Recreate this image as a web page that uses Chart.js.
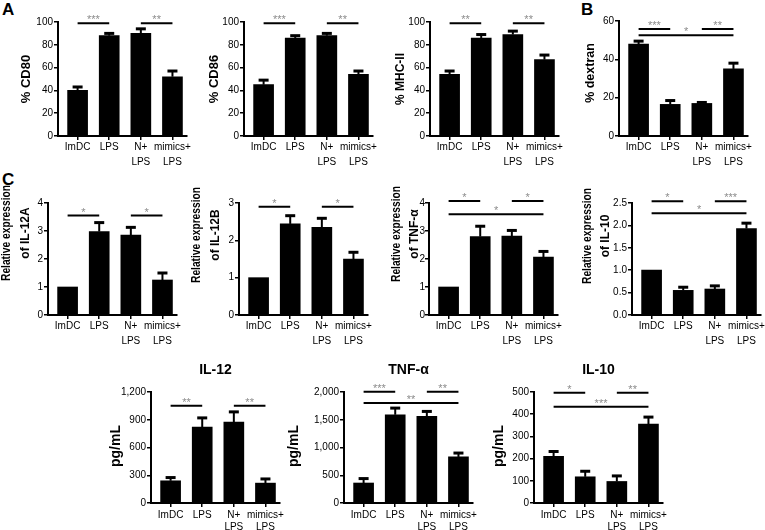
<!DOCTYPE html>
<html>
<head>
<meta charset="utf-8">
<script src="https://cdn.jsdelivr.net/npm/chart.js@4.4.1/dist/chart.umd.min.js"></script>
<style>
  body { margin: 0; background: #fff; width: 765px; height: 530px; position: relative; overflow: hidden;
         font-family: 'Liberation Sans', Arial, sans-serif; }
  canvas { position: absolute; }
  .letter { position: absolute; font-weight: bold; font-size: 17px; line-height: 17px; }
</style>
</head>
<body>
<div class="letter" style="left:2px;top:1px">A</div>
<div class="letter" style="left:581px;top:1px">B</div>
<div class="letter" style="left:2px;top:171px">C</div>
<script>
// category labels (x ticks)
const tickLabels = [['ImDC'], ['LPS'], ['N+', 'LPS'], ['mimics+', 'LPS']];

// A: surface markers (%)
const cd80 = [40, 88, 90, 52];
const cd80Err = [3, 2, 4, 5];
const cd86 = [45, 86, 88, 54];
const cd86Err = [4, 2, 2, 3];
const mhc2 = [54, 86, 89, 67];
const mhc2Err = [3, 3, 3, 4];
// B: dextran uptake (%)
const dextran = [48, 16.5, 17, 35];
const dextranErr = [1.5, 2, 0.5, 3];
// C: relative expression
const il12aRel = [1, 2.98, 2.85, 1.25];
const il12aRelErr = [0, 0.32, 0.28, 0.25];
const il12bRel = [1, 2.44, 2.35, 1.5];
const il12bRelErr = [0, 0.22, 0.24, 0.18];
const tnfRel = [1, 2.8, 2.82, 2.07];
const tnfRelErr = [0, 0.37, 0.2, 0.2];
const il10Rel = [1, 0.55, 0.58, 1.93];
const il10RelErr = [0, 0.07, 0.07, 0.12];
// C: secreted cytokines (pg/mL)
const il12Pg = [240, 820, 875, 215];
const il12PgErr = [35, 100, 110, 45];
const tnfPg = [360, 1590, 1560, 830];
const tnfPgErr = [80, 120, 90, 70];
const il10Pg = [210, 118, 97, 355];
const il10PgErr = [22, 25, 25, 32];

// significance brackets: [from, to, level, stars]
const cd80Sig = [[0, 1, 99, '***'], [2, 3, 99, '**']];
const cd86Sig = [[0, 1, 99, '***'], [2, 3, 99, '**']];
const mhc2Sig = [[0, 1, 99, '**'], [2, 3, 99, '**']];
const dextranSig = [[0, 1, 55.8, '***'], [2, 3, 55.8, '**'], [0, 3, 52.6, '*']];
const il12aSig = [[0, 1, 3.55, '*'], [2, 3, 3.55, '*']];
const il12bSig = [[0, 1, 2.9, '*'], [2, 3, 2.9, '*']];
const tnfRelSig = [[0, 1, 4.07, '*'], [2, 3, 4.07, '*'], [0, 3, 3.6, '*']];
const il10RelSig = [[0, 1, 2.54, '*'], [2, 3, 2.54, '***'], [0, 3, 2.27, '*']];
const il12PgSig = [[0, 1, 1052, '**'], [2, 3, 1052, '**']];
const tnfPgSig = [[0, 1, 2005, '***'], [2, 3, 2005, '**'], [0, 3, 1802, '**']];
const il10PgSig = [[0, 1, 497, '*'], [2, 3, 497, '**'], [0, 3, 434, '***']];

Chart.defaults.font.family = "'Liberation Sans', Arial, sans-serif";
Chart.defaults.color = '#000';

const PAD_L = 60, PAD_T = 32, PAD_R = 12, X_H = 36, AREA_W = 129;

const comma = v => v.toLocaleString('en-US');
const fixed1 = v => v.toFixed(1);
const plain = v => String(v);

const panels = [
  {x: 58, top: 22, bottom: 136, max: 100, step: 20, fmt: plain, values: cd80, err: cd80Err, sig: cd80Sig,
   ty: 79, yTitle: [['% CD80', 32, 13]]},
  {x: 244, top: 22, bottom: 136, max: 100, step: 20, fmt: plain, values: cd86, err: cd86Err, sig: cd86Sig,
   ty: 79, yTitle: [['% CD86', 30, 13]]},
  {x: 430, top: 22, bottom: 136, max: 100, step: 20, fmt: plain, values: mhc2, err: mhc2Err, sig: mhc2Sig,
   ty: 79, yTitle: [['% MHC-II', 29, 12]]},
  {x: 619, top: 21, bottom: 136, max: 60, step: 20, fmt: plain, values: dextran, err: dextranErr, sig: dextranSig,
   ty: 73, yTitle: [['% dextran', 28, 12.5]]},
  {x: 48, top: 203, bottom: 315, max: 4, step: 1, fmt: plain, values: il12aRel, err: il12aRelErr, sig: il12aSig,
   ty: 233, yTitle: [['Relative expression', 41, 12, 96], ['of IL-12A', 22.5, 12]]},
  {x: 239, top: 203, bottom: 315, max: 3, step: 1, fmt: plain, values: il12bRel, err: il12bRelErr, sig: il12bSig,
   ty: 235, yTitle: [['Relative expression', 42, 12, 96], ['of IL-12B', 23.5, 12]]},
  {x: 428.5, top: 203, bottom: 315, max: 4, step: 1, fmt: plain, values: tnfRel, err: tnfRelErr, sig: tnfRelSig,
   ty: 234, yTitle: [['Relative expression', 32, 12, 96], ['of TNF-\u03b1', 14, 12]], tpad: 0},
  {x: 632, top: 203, bottom: 315, max: 2.5, step: 0.5, fmt: fixed1, values: il10Rel, err: il10RelErr, sig: il10RelSig,
   ty: 236, yTitle: [['Relative expression', 44, 12, 96], ['of IL-10', 26.5, 12]]},
  {x: 151, top: 392, bottom: 503, max: 1200, step: 300, fmt: comma, values: il12Pg, err: il12PgErr, sig: il12PgSig,
   ty: 446, yTitle: [['pg/mL', 35, 14]], title: 'IL-12', titleY: 370, lh: 1.2, lpad: 2},
  {x: 344, top: 392, bottom: 503, max: 2000, step: 500, fmt: comma, values: tnfPg, err: tnfPgErr, sig: tnfPgSig,
   ty: 446, yTitle: [['pg/mL', 50, 14]], title: 'TNF-\u03b1', titleY: 370, lh: 1.2, lpad: 2},
  {x: 533.5, top: 392, bottom: 503, max: 500, step: 100, fmt: plain, values: il10Pg, err: il10PgErr, sig: il10PgSig,
   ty: 446, yTitle: [['pg/mL', 35, 14]], title: 'IL-10', titleY: 370, lh: 1.2, lpad: 2},
];

// error bars, brackets, stars and titles
const extras = {
  id: 'extras',
  afterDatasetsDraw(chart) {
    const p = chart.options.plugins.extras.panel;
    const {ctx, chartArea: ca} = chart;
    const xs = chart.scales.x, ys = chart.scales.y;
    const canvasTop = p.top - PAD_T;
    ctx.save();
    ctx.strokeStyle = '#000';
    ctx.fillStyle = '#000';
    // error bars (upper half only, lower half is hidden by the bar)
    p.values.forEach((v, i) => {
      const e = p.err[i];
      if (!e) return;
      const px = xs.getPixelForValue(i);
      const y0 = ys.getPixelForValue(v);
      const y1 = ys.getPixelForValue(v + e);
      ctx.lineWidth = 2;
      ctx.beginPath(); ctx.moveTo(px, y0); ctx.lineTo(px, y1); ctx.stroke();
      ctx.lineWidth = 3;
      ctx.beginPath(); ctx.moveTo(px - 5, y1); ctx.lineTo(px + 5, y1); ctx.stroke();
    });
    // significance brackets
    p.sig.forEach(([a, b, lvl, s]) => {
      const x1 = xs.getPixelForValue(a), x2 = xs.getPixelForValue(b);
      const yy = ys.getPixelForValue(lvl);
      ctx.lineWidth = 2;
      ctx.strokeStyle = '#000';
      ctx.beginPath(); ctx.moveTo(x1, yy); ctx.lineTo(x2, yy); ctx.stroke();
      ctx.fillStyle = '#8c8c8c';
      ctx.font = "11px 'Liberation Sans', Arial, sans-serif";
      ctx.textAlign = 'center';
      ctx.textBaseline = 'alphabetic';
      ctx.fillText(s, (x1 + x2) / 2, yy);
    });
    // y axis title lines
    ctx.fillStyle = '#000';
    p.yTitle.forEach(([t, dx, size, maxW]) => {
      ctx.save();
      ctx.translate(ca.left - dx, p.ty - canvasTop);
      ctx.rotate(-Math.PI / 2);
      ctx.font = "bold " + size + "px 'Liberation Sans', Arial, sans-serif";
      ctx.textAlign = 'center';
      ctx.textBaseline = 'middle';
      if (maxW) ctx.fillText(t, 0, 0, maxW); else ctx.fillText(t, 0, 0);
      ctx.restore();
    });
    // panel title
    if (p.title) {
      ctx.font = "bold 14px 'Liberation Sans', Arial, sans-serif";
      ctx.textAlign = 'center';
      ctx.textBaseline = 'middle';
      ctx.fillText(p.title, (ca.left + ca.right) / 2, p.titleY - canvasTop);
    }
    ctx.restore();
  }
};

panels.forEach(p => {
  const c = document.createElement('canvas');
  const w = PAD_L + AREA_W + PAD_R;
  const h = PAD_T + (p.bottom - p.top) + X_H;
  c.width = w; c.height = h;
  c.style.width = w + 'px'; c.style.height = h + 'px';
  c.style.left = (p.x - PAD_L) + 'px';
  c.style.top = (p.top - PAD_T) + 'px';
  document.body.appendChild(c);
  new Chart(c, {
    type: 'bar',
    data: {
      datasets: [{
        data: p.values.map((v, i) => ({x: i, y: v})),
        backgroundColor: '#000',
        barThickness: 20
      }]
    },
    options: {
      responsive: false,
      animation: false,
      events: [],
      layout: {padding: {left: 0, top: PAD_T, right: PAD_R, bottom: 0}, autoPadding: false},
      plugins: {legend: {display: false}, tooltip: {enabled: false}, extras: {panel: p}},
      scales: {
        x: {
          type: 'linear', min: -0.62, max: 3.46, offset: false,
          afterBuildTicks: s => { s.ticks = [0, 1, 2, 3].map(v => ({value: v})); },
          afterFit: s => { s.height = X_H; },
          ticks: {callback: v => tickLabels[v], font: {size: 10, lineHeight: p.lh || 1.5}, padding: p.lpad || 0,
                  maxRotation: 0, autoSkip: false, color: '#000'},
          grid: {drawOnChartArea: false, offset: false, tickLength: 4, color: '#000', lineWidth: 1.5},
          border: {color: '#000', width: 2}
        },
        y: {
          min: 0, max: p.max,
          afterFit: s => { s.width = PAD_L; },
          ticks: {stepSize: p.step, callback: v => p.fmt(v), font: {size: 10},
                  padding: p.tpad === undefined ? 1 : p.tpad, color: '#000'},
          grid: {drawOnChartArea: false, tickLength: 4, color: '#000', lineWidth: 1.5},
          border: {color: '#000', width: 2}
        }
      }
    },
    plugins: [extras]
  });
});
</script>
</body>
</html>
